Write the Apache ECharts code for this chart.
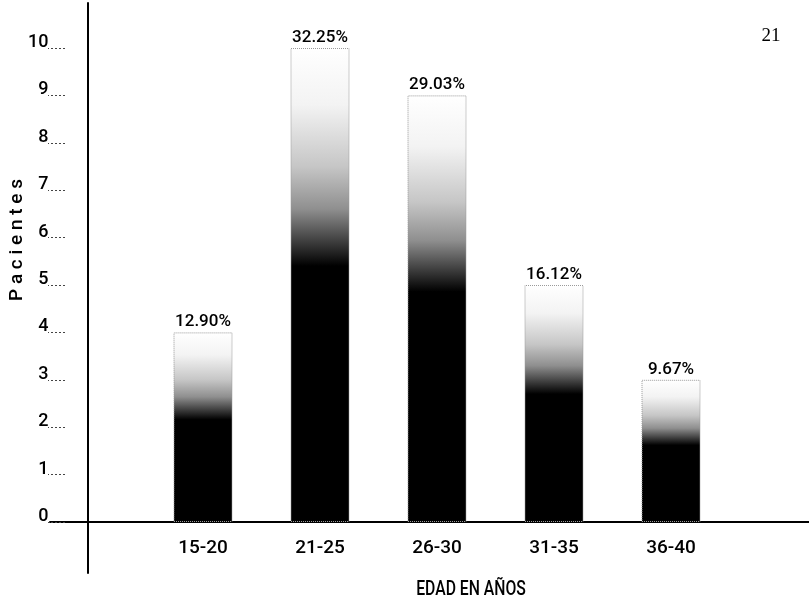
<!DOCTYPE html>
<html>
<head>
<meta charset="utf-8">
<script src="https://cdn.jsdelivr.net/npm/echarts@6/dist/echarts.min.js"></script>
<style>html,body{margin:0;padding:0;background:#fff}#c{width:809px;height:608px}</style>
</head>
<body>
<div id="c"></div>
<script>
const categories = ['15-20', '21-25', '26-30', '31-35', '36-40'];
const patients = [4, 10, 9, 5, 3];
const percentLabels = ['12.90%', '32.25%', '29.03%', '16.12%', '9.67%'];
const yTicks = [0, 1, 2, 3, 4, 5, 6, 7, 8, 9, 10];

const FONT = "Roboto, 'Liberation Sans', sans-serif";
const chart = echarts.init(document.getElementById('c'));

const barGradient = new echarts.graphic.LinearGradient(0, 0, 0, 1, [
  { offset: 0, color: '#ffffff' },
  { offset: 0.12, color: '#f3f3f3' },
  { offset: 0.25, color: '#c6c6c6' },
  { offset: 0.34, color: '#8f8f8f' },
  { offset: 0.41, color: '#3c3c3c' },
  { offset: 0.46, color: '#000000' },
  { offset: 1, color: '#000000' }
]);

chart.setOption({
  animation: false,
  backgroundColor: '#ffffff',
  grid: [
    { left: 144.5, right: 79.5, top: 48, bottom: 86 },
    { left: 50, right: 0, top: 3, bottom: 35 },
    { left: 65, right: 744, top: 48, bottom: 86 }
  ],
  xAxis: [
    {
      gridIndex: 0, type: 'category', data: categories,
      axisLine: { show: false }, axisTick: { show: false },
      axisLabel: { color: '#000', fontFamily: FONT, fontSize: 19, fontWeight: 500, margin: 17 }
    },
    {
      gridIndex: 1, type: 'value', min: -38, max: 721,
      axisLine: { show: true, onZero: true, lineStyle: { color: '#000', width: 2 } },
      axisTick: { show: false }, axisLabel: { show: false }, splitLine: { show: false }
    },
    {
      gridIndex: 2, type: 'value', min: 0, max: 1, show: false
    }
  ],
  yAxis: [
    {
      gridIndex: 0, type: 'value', min: 0, max: 10, interval: 1,
      axisLine: { show: false }, axisTick: { show: false }, splitLine: { show: false },
      axisLabel: {
        color: '#000', fontFamily: FONT, fontSize: 18, fontWeight: 500, margin: 96,
        verticalAlign: 'bottom', lineHeight: 11,
        formatter: v => (yTicks.indexOf(v) >= 0 ? String(v) : '')
      }
    },
    {
      gridIndex: 1, type: 'value', min: -51, max: 519,
      axisLine: { show: true, onZero: true, lineStyle: { color: '#000', width: 2 } },
      axisTick: { show: false }, axisLabel: { show: false }, splitLine: { show: false }
    },
    {
      gridIndex: 2, type: 'value', min: 0, max: 10, interval: 1,
      axisLine: { show: false },
      axisTick: { show: true, length: 17, lineStyle: { color: '#444', type: [2, 2], width: 1 } },
      axisLabel: { show: false }, splitLine: { show: false }
    }
  ],
  series: [
    {
      type: 'bar', xAxisIndex: 0, yAxisIndex: 0,
      data: patients, barWidth: 59,
      itemStyle: { color: barGradient, borderColor: '#9a9a9a', borderWidth: 1, borderType: 'dotted' },
      label: {
        show: true, position: 'top', distance: 2, color: '#000',
        fontFamily: FONT, fontSize: 17, fontWeight: 500,
        formatter: p => percentLabels[p.dataIndex]
      }
    }
  ],
  graphic: [
    {
      type: 'text', x: 471, y: 590, scaleX: 0.75,
      style: { text: 'EDAD EN AÑOS', font: "500 21px Roboto, 'Liberation Sans', sans-serif", fill: '#000', align: 'center', verticalAlign: 'middle' }
    },
    {
      type: 'text', x: 17, y: 240, rotation: Math.PI / 2,
      style: { text: 'P a c i e n t e s', font: "500 19px Roboto, 'DejaVu Sans', sans-serif", fill: '#000', align: 'center', verticalAlign: 'middle' }
    },
    {
      type: 'text', x: 771, y: 36,
      style: { text: '21', font: "19px 'Liberation Serif', serif", fill: '#000', align: 'center', verticalAlign: 'middle' }
    }
  ]
});
</script>
</body>
</html>
